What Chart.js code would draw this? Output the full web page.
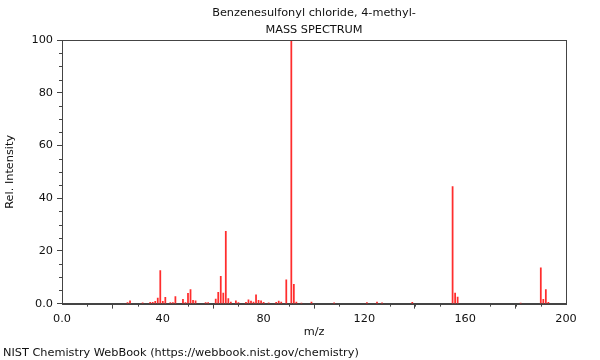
<!DOCTYPE html>
<html>
<head>
<meta charset="utf-8">
<script src="https://cdn.jsdelivr.net/npm/chart.js@4/dist/chart.umd.min.js"></script>
<style>
  html, body { margin: 0; padding: 0; background: #fff; }
  #wrap { width: 600px; height: 360px; }
</style>
</head>
<body>
<div id="wrap"><canvas id="c" width="600" height="360"></canvas></div>
<script>
// ---- data ----
const titleLines = ['Benzenesulfonyl chloride, 4-methyl-', 'MASS SPECTRUM'];
const footerText = 'NIST Chemistry WebBook (https://webbook.nist.gov/chemistry)';
const xAxisTitle = 'm/z';
const yAxisTitle = 'Rel. Intensity';
const mz = [26, 27, 32, 35, 36, 37, 38, 39, 40, 41, 43, 44, 45, 48, 49, 50, 51, 52, 53, 57, 58,
            61, 62, 63, 64, 65, 66, 67, 69, 70, 73, 74, 75, 76, 77, 78, 79, 80, 82, 85, 86, 87,
            89, 91, 92, 93, 95, 99, 108, 121, 125, 127, 139, 155, 156, 157, 182, 190, 191, 192, 193];
const intensity = [0.4, 1.1, 0.3, 0.5, 0.5, 0.9, 2.1, 12.5, 0.9, 2.4, 0.4, 0.4, 2.7, 1.6, 0.4, 3.9, 5.3, 1.3, 1.1, 0.4, 0.4,
            1.7, 4.3, 10.4, 4.0, 27.4, 1.9, 0.6, 1.1, 0.4, 0.5, 1.4, 1.0, 0.6, 3.3, 1.3, 1.1, 0.5, 0.3, 0.5, 1.0, 0.6,
            9.0, 100, 7.3, 0.6, 0.2, 0.6, 0.3, 0.4, 0.6, 0.3, 0.5, 44.4, 4.0, 2.5, 0.2, 13.6, 1.6, 5.3, 0.5];
const xRange = [0, 200];
const yRange = [0, 100];
const xMajorStep = 40, xMinorStep = 10;
const yMajorStep = 20, yMinorStep = 5;

const FONT = "'DejaVu Sans', sans-serif";
const AXIS = '#444';

const fmt = v => (v === 0 ? '0.0' : String(v));

const frameAndMinor = {
  id: 'frameAndMinor',
  afterDraw(chart) {
    const {ctx, chartArea: a, scales} = chart;
    ctx.save();
    ctx.strokeStyle = AXIS;
    ctx.lineWidth = 1;
    ctx.strokeRect(Math.round(a.left) + 0.5, Math.round(a.top) + 0.5,
                   Math.round(a.right - a.left), Math.round(a.bottom - a.top));
    ctx.beginPath();
    for (let v = xRange[0]; v <= xRange[1]; v += xMinorStep) {
      if (v % xMajorStep === 0) continue;
      const px = Math.round(scales.x.getPixelForValue(v)) + 0.5;
      ctx.moveTo(px, a.bottom); ctx.lineTo(px, a.bottom + 3);
    }
    for (let v = yRange[0]; v <= yRange[1]; v += yMinorStep) {
      if (v % yMajorStep === 0) continue;
      const py = Math.round(scales.y.getPixelForValue(v)) + 0.5;
      ctx.moveTo(a.left, py); ctx.lineTo(a.left - 3, py);
    }
    ctx.stroke();
    ctx.restore();
  }
};

new Chart(document.getElementById('c'), {
  type: 'bar',
  data: {
    datasets: [{
      data: mz.map((m, i) => ({x: m, y: intensity[i]})),
      backgroundColor: 'rgb(255,45,45)',
      borderWidth: 0,
      barThickness: 1.1
    }]
  },
  options: {
    responsive: false,
    animation: false,
    layout: { padding: { left: 3, right: 34, top: 0, bottom: 0 } },
    plugins: {
      legend: { display: false },
      tooltip: { enabled: false },
      title: {
        display: true, text: titleLines, fullSize: false,
        color: '#111', font: { family: FONT, size: 11.3, weight: 'normal', lineHeight: 1.505 },
        padding: { top: 4.5, bottom: 1.5 }
      },
      subtitle: {
        display: true, text: footerText, position: 'bottom', align: 'start', fullSize: true,
        color: '#111', font: { family: FONT, size: 11.3, weight: 'normal', lineHeight: 1.2 },
        padding: { top: 0, bottom: 0 }
      }
    },
    scales: {
      x: {
        type: 'linear', min: xRange[0], max: xRange[1], offset: false,
        afterFit(s) { s.height = 42.8; },
        border: { display: true, color: AXIS, width: 1 },
        grid: { display: true, drawOnChartArea: false, drawTicks: true, tickLength: 5, tickColor: AXIS },
        ticks: { stepSize: xMajorStep, padding: 4, color: '#111', font: { family: FONT, size: 11.3 },
                 maxRotation: 0, callback: v => fmt(v) },
        title: { display: true, text: xAxisTitle, color: '#111', font: { family: FONT, size: 11.3 },
                 padding: { top: 0, bottom: 8 } }
      },
      y: {
        min: yRange[0], max: yRange[1],
        afterFit(s) { s.width = 59; },
        border: { display: true, color: AXIS, width: 1 },
        grid: { display: true, drawOnChartArea: false, drawTicks: true, tickLength: 5, tickColor: AXIS },
        ticks: { stepSize: yMajorStep, padding: 4, color: '#111', font: { family: FONT, size: 11.3 },
                 callback: v => fmt(v) },
        title: { display: true, text: yAxisTitle, color: '#111', font: { family: FONT, size: 11.3 },
                 padding: { top: 0, bottom: 0 } }
      }
    }
  },
  plugins: [frameAndMinor]
});
</script>
</body>
</html>
